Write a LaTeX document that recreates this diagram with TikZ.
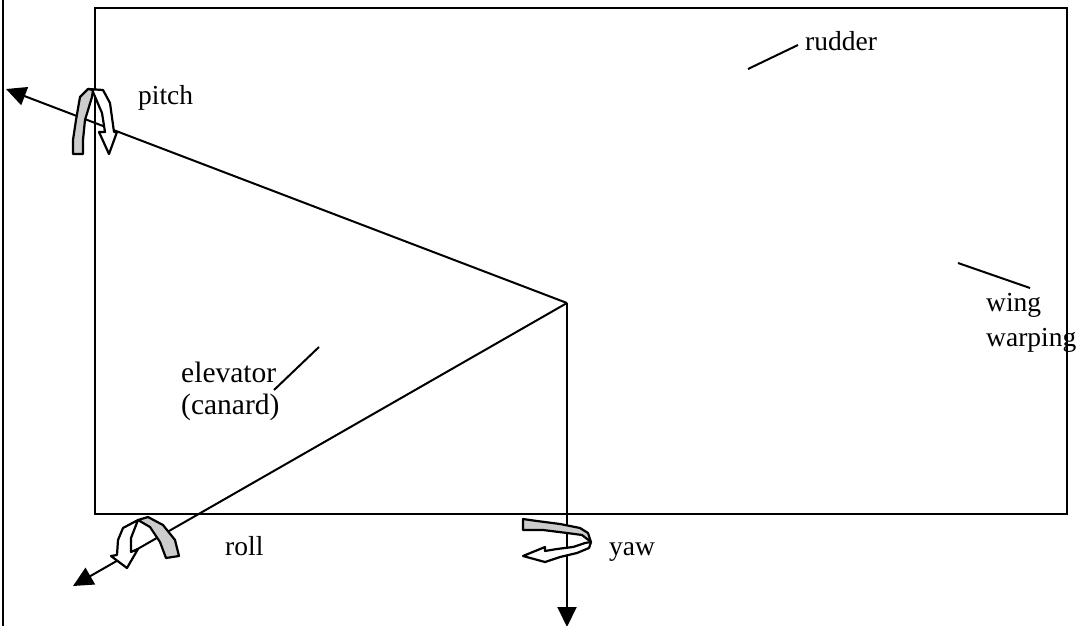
\documentclass[tikz,border=0pt]{standalone}
\usepackage{fontspec}
\setmainfont{Liberation Serif}
\usetikzlibrary{arrows.meta}
\tikzset{
  line/.style={draw=black,line width=2pt},
  axis/.style={line,-{Triangle[length=20pt,width=19pt]}},
  lab/.style={anchor=base west,inner sep=0pt,font=\fontsize{27.5}{27.5}\selectfont},
  biglab/.style={anchor=base west,inner sep=0pt,font=\fontsize{29.5}{29.5}\selectfont},
  greyturn/.style={draw=black,line width=2.2pt,fill=black!20,line join=round},
  whiteturn/.style={draw=black,line width=2.2pt,fill=white,line join=round}
}
\begin{document}
\begin{tikzpicture}[x=1pt,y=-1pt]
\useasboundingbox (0,0) rectangle (1079,626);
\draw[line] (3,0) -- (3,626);
\draw[line] (95,8) rectangle (1067,514);
\coordinate (c) at (567,303);
\coordinate (pt) at (6,89);
\coordinate (rt) at (73,586);
\coordinate (yt) at (567,627);
\draw[axis] (c) -- (pt);
\draw[axis] (c) -- (rt);
\draw[axis] (c) -- (yt);
% pitch
\draw[whiteturn] (88,89) -- (103,90) -- (110,103) -- (114,132) -- (117,132) -- (109,154) -- (99,132) -- (105,132) -- (102,113) -- (93,92) -- cycle;
\draw[greyturn] (73,154) -- (73,140) -- (76,120) -- (80,97) -- (88,89) -- (93,90) -- (92,97) -- (85,120) -- (83,140) -- (83,154) -- cycle;
% roll
\draw[whiteturn] (138,520) -- (123,528) -- (118,540) -- (117,555) -- (111,556) -- (127,568) -- (138,549) -- (131,552) -- (131,538) -- cycle;
\draw[greyturn] (138,520) -- (148,517) -- (163,525) -- (175,540) -- (179,556) -- (166,558) -- (160,542) -- (150,527) -- cycle;
% yaw
\draw[greyturn] (523,519) -- (537,521) -- (560,524) -- (580,528) -- (588,533) -- (591,542) -- (582,535) -- (567,533) -- (543,530) -- (523,530) -- cycle;
\draw[whiteturn] (591,542) -- (589,548) -- (577,553) -- (560,557) -- (545,562) -- (523,556) -- (545,547) -- (545,551) -- (557,549) -- (573,547) -- (585,543) -- cycle;
% leaders
\coordinate (r1) at (748,69); \coordinate (r2) at (798,45);
\coordinate (w1) at (958,263); \coordinate (w2) at (1030,288);
\coordinate (e1) at (274,390); \coordinate (e2) at (319,347);
\draw[line] (r1) -- (r2);
\draw[line] (w1) -- (w2);
\draw[line] (e1) -- (e2);
% labels
\node[lab] (rudder) at (805,51) {rudder};
\node[lab] (pitch) at (138,104) {pitch};
\node[lab] (wing) at (986,311) {wing};
\node[lab] (warping) at (986,346) {warping};
\node[biglab] (elevator) at (181,382) {elevator};
\node[biglab] (canard) at (181,414) {(canard)};
\node[lab] (roll) at (225,555) {roll};
\node[lab] (yaw) at (609,555) {yaw};
\end{tikzpicture}
\end{document}
